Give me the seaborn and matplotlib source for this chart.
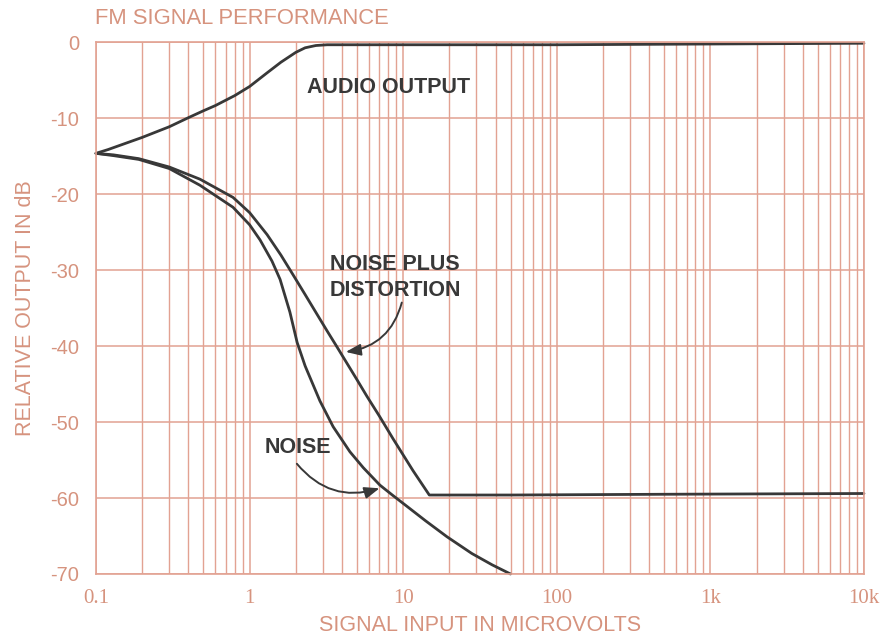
import numpy as np
import pandas as pd
import seaborn as sns
import matplotlib.pyplot as plt
from matplotlib.ticker import LogLocator, NullFormatter, FixedLocator

# values
audio_x = [0.1, 0.12, 0.15, 0.2, 0.3, 0.4, 0.5, 0.6, 0.7, 0.8, 1.0, 1.3, 1.6, 2.0, 2.3, 2.7, 3.2, 10, 100, 1000, 10000]
audio_y = [-14.6, -14.1, -13.4, -12.5, -11.1, -9.9, -9.0, -8.3, -7.6, -7.0, -5.8, -4.0, -2.6, -1.3, -0.7, -0.4, -0.3, -0.3, -0.3, -0.2, -0.1]

nd_x = [0.1, 0.13, 0.19, 0.3, 0.475, 0.78, 1.0, 1.3, 1.6, 1.92, 2.3, 2.75, 3.2, 3.71, 4.06, 5.0, 5.81, 7.0, 8.6, 11.6, 14.8, 50, 500, 10000]
nd_y = [-14.6, -14.8, -15.3, -16.4, -18.0, -20.4, -22.4, -25.3, -28.0, -30.6, -33.2, -35.8, -38.0, -40.1, -41.4, -44.4, -46.6, -49.2, -52.2, -56.4, -59.6, -59.6, -59.5, -59.4]

noise_x = [0.1, 0.13, 0.19, 0.3, 0.475, 0.78, 1.0, 1.17, 1.4, 1.58, 1.83, 2.04, 2.3, 2.87, 3.5, 4.5, 5.5, 7.06, 8.5, 10.6, 14, 19.3, 28, 38, 50]
noise_y = [-14.6, -14.9, -15.4, -16.6, -18.8, -21.7, -24.0, -26.0, -28.8, -31.2, -35.5, -39.5, -42.6, -47.2, -50.6, -53.9, -56.0, -58.3, -59.6, -61.1, -63.0, -65.1, -67.3, -68.8, -70.0]

x_ticks = [0.1, 1, 10, 100, 1000, 10000]
x_labels = ['0.1', '1', '10', '100', '1k', '10k']
y_ticks = [0, -10, -20, -30, -40, -50, -60, -70]
y_labels = ['0', '-10', '-20', '-30', '-40', '-50', '-60', '-70']

salmon = '#d6937e'
grid_c = '#e2a292'
ink = '#383838'

df = pd.concat([
    pd.DataFrame({'x': audio_x, 'y': audio_y, 'curve': 'audio'}),
    pd.DataFrame({'x': nd_x, 'y': nd_y, 'curve': 'nd'}),
    pd.DataFrame({'x': noise_x, 'y': noise_y, 'curve': 'noise'}),
])

sns.set_style('white')
plt.rcParams['font.family'] = ['Liberation Sans', 'DejaVu Sans']

fig = plt.figure(figsize=(8.87, 6.36), dpi=100)
ax = fig.add_axes([0.1082, 0.0975, 0.8658, 0.8357])

sns.lineplot(data=df, x='x', y='y', hue='curve', palette=[ink, ink, ink],
             estimator=None, sort=False, linewidth=2.0, legend=False, ax=ax)
for l in ax.lines:
    l.set_clip_on(False)
    l.set_solid_joinstyle('round')

ax.set_xscale('log')
ax.set_xlim(0.1, 10000)
ax.set_ylim(-70, 0)

ax.xaxis.set_major_locator(FixedLocator(x_ticks))
ax.xaxis.set_minor_locator(LogLocator(base=10, subs=np.arange(2, 10)))
ax.xaxis.set_minor_formatter(NullFormatter())
ax.set_xticklabels(x_labels, family='Liberation Serif', fontsize=15, color=salmon)
ax.set_yticks(y_ticks)
ax.set_yticklabels(y_labels, fontsize=14.5, color=salmon)
ax.tick_params(which='both', length=0)
ax.tick_params(axis='x', pad=11)
ax.tick_params(axis='y', pad=12)

ax.grid(which='major', axis='both', color=grid_c, linewidth=1.1)
ax.grid(which='minor', axis='x', color=grid_c, linewidth=1.0)
ax.set_axisbelow(True)
for s in ax.spines.values():
    s.set_color(grid_c)
    s.set_linewidth(1.2)

ax.set_xlabel('SIGNAL INPUT IN MICROVOLTS', fontsize=15.5, color=salmon, labelpad=5)
ax.set_ylabel('RELATIVE OUTPUT IN dB', fontsize=15.5, color=salmon, labelpad=10)
fig.text(0.107, 0.971, 'FM SIGNAL PERFORMANCE', fontsize=15.8, color=salmon,
         ha='left', va='center')

# curve annotations
ax.text(2.37, -5.9, 'AUDIO OUTPUT', fontsize=15.5, fontweight='bold', color=ink,
        ha='left', va='center')
ax.text(3.33, -29.3, 'NOISE PLUS', fontsize=15.5, fontweight='bold', color=ink,
        ha='left', va='center')
ax.text(3.33, -32.6, 'DISTORTION', fontsize=15.5, fontweight='bold', color=ink,
        ha='left', va='center')
ax.text(1.26, -53.3, 'NOISE', fontsize=15.5, fontweight='bold', color=ink,
        ha='left', va='center')

ax.annotate('', xy=(4.06, -40.8), xytext=(9.9, -33.9),
            arrowprops=dict(arrowstyle='-|>,head_length=0.9,head_width=0.35',
                            color=ink, lw=1.4, connectionstyle='arc3,rad=-0.35'))
ax.annotate('', xy=(7.3, -58.6), xytext=(1.98, -55.2),
            arrowprops=dict(arrowstyle='-|>,head_length=0.9,head_width=0.35',
                            color=ink, lw=1.4, connectionstyle='arc3,rad=0.35'))

fig.savefig('out.png', dpi=100)
